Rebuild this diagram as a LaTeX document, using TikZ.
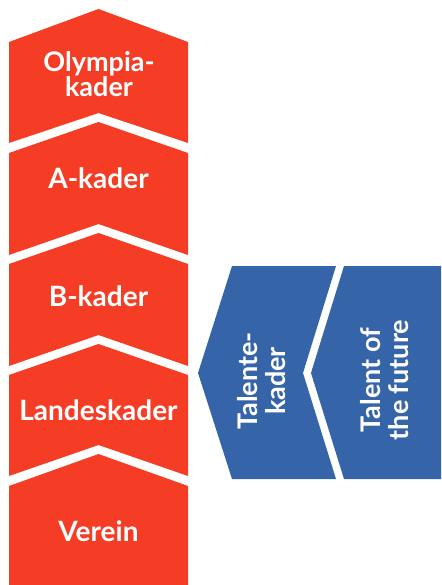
\documentclass[tikz,border=0pt]{standalone}
\usepackage{fontspec}
\setmainfont{Lato}
\definecolor{kred}{RGB}{245,61,38}
\definecolor{kblue}{RGB}{53,101,168}
\begin{document}
\begin{tikzpicture}[x=1pt,y=-1pt,
  redbox/.style={fill=kred},
  bluebox/.style={fill=kblue},
  lbl/.style={text=white,font=\bfseries\fontsize{28}{28}\selectfont,align=center,inner sep=0pt}]
\useasboundingbox (0,0) rectangle (441,585);
% red column
\fill[redbox] (9,42) -- (98.5,9) -- (188,42) -- (188,143) -- (98.5,113) -- (9,143) -- cycle;
\fill[redbox] (9,153) -- (98.5,122) -- (188,153) -- (188,255) -- (98.5,224) -- (9,255) -- cycle;
\fill[redbox] (9,264) -- (98.5,233) -- (188,264) -- (188,366) -- (98.5,335) -- (9,366) -- cycle;
\fill[redbox] (9,375) -- (98.5,344) -- (188,375) -- (188,476) -- (98.5,445) -- (9,476) -- cycle;
\fill[redbox] (9,486) -- (98.5,454) -- (188,486) -- (188,585) -- (9,585) -- cycle;
% blue chevrons
\fill[bluebox] (232,266) -- (336,266) -- (303,373) -- (336,479) -- (232,479) -- (198,373) -- cycle;
\fill[bluebox] (344,266) -- (441,266) -- (441,479) -- (344,479) -- (311,373) -- cycle;
% labels
\node[lbl,font=\bfseries\fontsize{27}{25}\selectfont] (olymp) at (99,74) {Olympia-\\kader};
\node[lbl,anchor=base] (akader) at (98.5,189) {A-kader};
\node[lbl,anchor=base] (bkader) at (98.5,306) {B-kader};
\node[lbl,anchor=base] (landes) at (98.5,420) {Landeskader};
\node[lbl,anchor=base] (verein) at (98.5,541) {Verein};
\node[lbl,rotate=90,font=\bfseries\fontsize{27}{28}\selectfont] (talente) at (262,381) {Talente-\\kader};
\node[lbl,rotate=90,font=\bfseries\fontsize{27}{28}\selectfont] (future) at (385,380) {Talent of\\the future};
\end{tikzpicture}
\end{document}
